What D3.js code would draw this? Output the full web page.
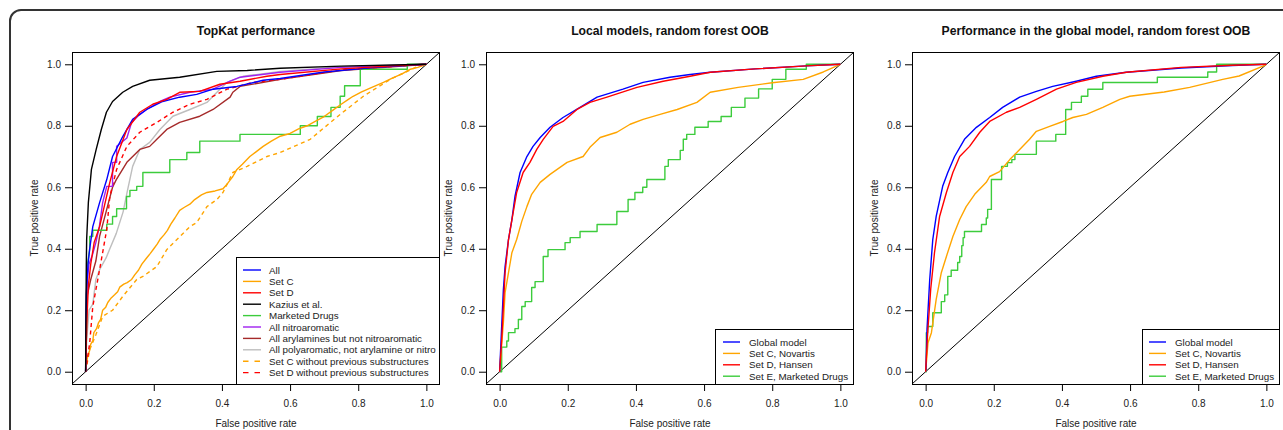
<!DOCTYPE html>
<html>
<head>
<meta charset="utf-8">
<script src="https://cdn.jsdelivr.net/npm/d3@7/dist/d3.min.js"></script>
<style>
  html, body { margin: 0; padding: 0; background: #fff; }
  svg { display: block; font-family: "Liberation Sans", Arial, Helvetica, sans-serif; }
</style>
</head>
<body>
<svg id="chart" width="1283" height="430"></svg>
<script>
// ---- tick labels ----
const tickValues = [0, 0.2, 0.4, 0.6, 0.8, 1.0];

// ---- panel 1: TopKat performance (false positive rate, true positive rate) ----
const topkatAll = [[0,0],[0.002,0.25],[0.007,0.35],[0.012,0.4],[0.021,0.472],[0.041,0.55],[0.062,0.625],[0.079,0.70],[0.109,0.765],[0.138,0.821],[0.179,0.853],[0.226,0.879],[0.276,0.893],[0.326,0.902],[0.374,0.919],[0.444,0.928],[0.521,0.948],[0.571,0.954],[0.70,0.975],[0.85,0.99],[1,1]];
const topkatSetC = [[0,0],[0.003,0.03],[0.006,0.05],[0.012,0.07],[0.015,0.09],[0.021,0.10],[0.024,0.127],[0.032,0.14],[0.038,0.16],[0.044,0.17],[0.05,0.2],[0.059,0.21],[0.065,0.225],[0.075,0.24],[0.085,0.25],[0.094,0.26],[0.1,0.275],[0.112,0.285],[0.122,0.29],[0.135,0.30],[0.144,0.315],[0.155,0.33],[0.165,0.35],[0.179,0.37],[0.19,0.385],[0.2,0.40],[0.21,0.415],[0.218,0.43],[0.23,0.445],[0.24,0.46],[0.25,0.48],[0.262,0.50],[0.276,0.525],[0.29,0.535],[0.306,0.545],[0.32,0.56],[0.34,0.575],[0.356,0.583],[0.38,0.588],[0.403,0.595],[0.415,0.61],[0.425,0.625],[0.432,0.635],[0.444,0.658],[0.46,0.675],[0.482,0.70],[0.50,0.715],[0.521,0.733],[0.545,0.75],[0.571,0.766],[0.6,0.775],[0.625,0.79],[0.65,0.80],[0.675,0.815],[0.70,0.83],[0.725,0.85],[0.75,0.87],[0.77,0.885],[0.785,0.896],[0.81,0.91],[0.84,0.925],[0.874,0.941],[0.9,0.955],[0.93,0.97],[0.953,0.984],[0.975,0.99],[1,1]];
const topkatSetD = [[0,0],[0.003,0.15],[0.008,0.28],[0.015,0.35],[0.025,0.42],[0.041,0.472],[0.071,0.616],[0.091,0.70],[0.121,0.788],[0.159,0.844],[0.197,0.870],[0.238,0.886],[0.276,0.909],[0.335,0.912],[0.394,0.935],[0.453,0.945],[0.532,0.961],[0.571,0.967],[0.75,0.985],[0.9,0.995],[1,1]];
const topkatKazius = [[0,0],[0.001,0.2],[0.002,0.35],[0.003,0.43],[0.008,0.55],[0.017,0.658],[0.031,0.723],[0.046,0.788],[0.061,0.844],[0.079,0.879],[0.109,0.909],[0.138,0.928],[0.188,0.948],[0.276,0.958],[0.385,0.977],[0.474,0.980],[0.571,0.987],[0.75,0.994],[1,1]];
const topkatMarketed = [[0,0],[0.003,0.2],[0.003,0.33],[0.012,0.4],[0.012,0.44],[0.021,0.44],[0.021,0.46],[0.062,0.46],[0.062,0.48],[0.079,0.48],[0.079,0.505],[0.091,0.505],[0.091,0.53],[0.12,0.53],[0.12,0.57],[0.13,0.57],[0.13,0.59],[0.15,0.59],[0.15,0.603],[0.168,0.603],[0.168,0.648],[0.247,0.648],[0.247,0.69],[0.297,0.69],[0.297,0.713],[0.335,0.713],[0.335,0.75],[0.453,0.75],[0.453,0.772],[0.63,0.772],[0.63,0.80],[0.68,0.80],[0.68,0.83],[0.72,0.83],[0.72,0.86],[0.747,0.86],[0.747,0.896],[0.76,0.896],[0.76,0.93],[0.806,0.93],[0.806,0.984],[0.944,0.984],[0.944,1.0],[1,1]];
const topkatNitro = [[0,0],[0.002,0.2],[0.005,0.3],[0.01,0.35],[0.02,0.38],[0.03,0.42],[0.04,0.47],[0.05,0.55],[0.062,0.603],[0.079,0.603],[0.079,0.681],[0.091,0.681],[0.091,0.733],[0.121,0.76],[0.135,0.811],[0.153,0.831],[0.179,0.853],[0.218,0.879],[0.247,0.893],[0.306,0.909],[0.374,0.919],[0.424,0.945],[0.453,0.958],[0.571,0.974],[0.75,0.99],[1,1]];
const topkatArylamines = [[0,0],[0.005,0.25],[0.015,0.3],[0.03,0.36],[0.041,0.44],[0.06,0.52],[0.079,0.6],[0.09,0.625],[0.121,0.681],[0.159,0.723],[0.188,0.733],[0.209,0.756],[0.238,0.788],[0.276,0.811],[0.335,0.831],[0.374,0.853],[0.424,0.893],[0.432,0.909],[0.453,0.928],[0.571,0.951],[0.75,0.98],[1,1]];
const topkatPolyaromatic = [[0,0],[0.003,0.1],[0.01,0.2],[0.021,0.22],[0.03,0.3],[0.041,0.332],[0.06,0.37],[0.071,0.40],[0.09,0.45],[0.11,0.52],[0.121,0.58],[0.138,0.668],[0.159,0.723],[0.188,0.746],[0.218,0.788],[0.256,0.831],[0.306,0.853],[0.356,0.876],[0.394,0.919],[0.415,0.941],[0.462,0.961],[0.571,0.977],[0.75,0.992],[1,1]];
const topkatSetCRest = [[0,0],[0.012,0.072],[0.03,0.12],[0.05,0.18],[0.079,0.2],[0.109,0.245],[0.15,0.30],[0.168,0.31],[0.209,0.342],[0.238,0.397],[0.268,0.43],[0.306,0.472],[0.326,0.485],[0.356,0.537],[0.385,0.56],[0.403,0.583],[0.432,0.648],[0.474,0.668],[0.532,0.70],[0.571,0.713],[0.659,0.756],[0.747,0.837],[0.815,0.896],[0.894,0.951],[0.974,0.993],[1,1]];
const topkatSetDRest = [[0,0],[0.002,0.016],[0.012,0.094],[0.021,0.212],[0.041,0.332],[0.062,0.463],[0.071,0.57],[0.091,0.658],[0.121,0.733],[0.159,0.779],[0.209,0.811],[0.256,0.844],[0.306,0.870],[0.356,0.886],[0.415,0.919],[0.491,0.941],[0.571,0.951],[0.75,0.982],[1,1]];

// ---- panel 2: local models, random forest OOB ----
const localGlobal = [[0,0],[0.006,0.147],[0.011,0.267],[0.016,0.342],[0.026,0.43],[0.036,0.495],[0.045,0.57],[0.06,0.648],[0.08,0.70],[0.098,0.733],[0.119,0.762],[0.148,0.795],[0.186,0.827],[0.236,0.86],[0.286,0.893],[0.362,0.919],[0.421,0.941],[0.5,0.958],[0.559,0.967],[0.618,0.974],[0.75,0.985],[0.9,0.995],[1,1]];
const localSetC = [[0,0],[0.011,0.16],[0.016,0.257],[0.026,0.322],[0.036,0.387],[0.05,0.43],[0.065,0.489],[0.08,0.537],[0.094,0.577],[0.119,0.616],[0.148,0.642],[0.198,0.681],[0.245,0.70],[0.265,0.73],[0.295,0.762],[0.344,0.779],[0.383,0.805],[0.421,0.821],[0.471,0.837],[0.521,0.853],[0.579,0.876],[0.618,0.909],[0.70,0.925],[0.80,0.94],[0.891,0.951],[0.95,0.975],[1,1]];
const localSetD = [[0,0],[0.006,0.104],[0.016,0.322],[0.026,0.43],[0.05,0.583],[0.069,0.648],[0.089,0.681],[0.109,0.723],[0.128,0.756],[0.157,0.798],[0.186,0.814],[0.227,0.853],[0.265,0.876],[0.315,0.893],[0.403,0.925],[0.48,0.945],[0.559,0.961],[0.618,0.974],[0.75,0.985],[0.9,0.995],[1,1]];
const localSetE = [[0,0],[0.006,0.0],[0.006,0.08],[0.021,0.08],[0.021,0.10],[0.026,0.10],[0.026,0.127],[0.045,0.127],[0.045,0.14],[0.055,0.14],[0.055,0.17],[0.065,0.17],[0.065,0.212],[0.075,0.212],[0.075,0.228],[0.094,0.228],[0.094,0.274],[0.104,0.274],[0.104,0.293],[0.128,0.293],[0.128,0.375],[0.142,0.375],[0.142,0.397],[0.192,0.397],[0.192,0.42],[0.207,0.42],[0.207,0.436],[0.236,0.436],[0.236,0.456],[0.286,0.456],[0.286,0.479],[0.344,0.479],[0.344,0.521],[0.377,0.521],[0.377,0.56],[0.397,0.56],[0.397,0.583],[0.42,0.583],[0.42,0.60],[0.432,0.60],[0.432,0.625],[0.485,0.625],[0.485,0.668],[0.495,0.668],[0.495,0.69],[0.53,0.69],[0.53,0.72],[0.539,0.72],[0.539,0.756],[0.549,0.756],[0.549,0.772],[0.573,0.772],[0.573,0.795],[0.612,0.795],[0.612,0.814],[0.65,0.814],[0.65,0.83],[0.68,0.83],[0.68,0.86],[0.72,0.86],[0.72,0.89],[0.76,0.89],[0.76,0.92],[0.80,0.92],[0.80,0.951],[0.84,0.951],[0.84,0.984],[0.90,0.984],[0.90,1.0],[1,1]];

// ---- panel 3: performance in the global model, random forest OOB ----
const globalGlobal = [[0,0],[0.001,0.007],[0.004,0.137],[0.012,0.30],[0.021,0.43],[0.031,0.505],[0.05,0.603],[0.065,0.648],[0.085,0.70],[0.114,0.756],[0.149,0.795],[0.188,0.827],[0.226,0.86],[0.276,0.893],[0.325,0.912],[0.373,0.928],[0.442,0.945],[0.501,0.961],[0.589,0.974],[0.75,0.988],[0.9,0.996],[1,1]];
const globalSetC = [[0,0],[0.007,0.094],[0.017,0.127],[0.031,0.235],[0.046,0.322],[0.061,0.375],[0.08,0.44],[0.1,0.495],[0.119,0.537],[0.144,0.577],[0.178,0.616],[0.188,0.635],[0.217,0.651],[0.247,0.69],[0.276,0.723],[0.305,0.756],[0.325,0.782],[0.364,0.798],[0.403,0.814],[0.432,0.827],[0.472,0.837],[0.52,0.86],[0.57,0.886],[0.599,0.896],[0.70,0.91],[0.775,0.925],[0.872,0.951],[0.92,0.962],[0.99,0.994],[1,1]];
const globalSetD = [[0,0],[0.006,0.127],[0.015,0.27],[0.026,0.387],[0.041,0.505],[0.061,0.583],[0.08,0.648],[0.1,0.70],[0.129,0.733],[0.159,0.779],[0.188,0.814],[0.237,0.844],[0.276,0.86],[0.325,0.886],[0.384,0.919],[0.442,0.941],[0.52,0.961],[0.589,0.974],[0.75,0.99],[0.9,0.997],[1,1]];
const globalSetE = [[0,0],[0.002,0.0],[0.002,0.127],[0.006,0.127],[0.006,0.147],[0.021,0.147],[0.021,0.192],[0.046,0.192],[0.046,0.228],[0.056,0.228],[0.056,0.25],[0.065,0.25],[0.065,0.31],[0.075,0.31],[0.075,0.33],[0.094,0.33],[0.094,0.355],[0.1,0.355],[0.1,0.375],[0.106,0.375],[0.106,0.41],[0.11,0.41],[0.11,0.436],[0.114,0.436],[0.114,0.456],[0.164,0.456],[0.164,0.479],[0.178,0.479],[0.178,0.50],[0.182,0.50],[0.182,0.528],[0.193,0.528],[0.193,0.625],[0.223,0.625],[0.223,0.668],[0.24,0.668],[0.24,0.68],[0.253,0.68],[0.253,0.69],[0.262,0.69],[0.262,0.707],[0.325,0.707],[0.325,0.75],[0.382,0.75],[0.382,0.772],[0.411,0.772],[0.411,0.853],[0.428,0.853],[0.428,0.876],[0.457,0.876],[0.457,0.896],[0.476,0.896],[0.476,0.919],[0.52,0.919],[0.52,0.941],[0.68,0.941],[0.68,0.958],[0.828,0.958],[0.828,0.975],[0.854,0.975],[0.854,1.0],[1,1]];

// ---- series styling and legend labels ----
const panels = [
  {
    title: "TopKat performance",
    left: 72, right: 440,
    legendLeft: 236, legendTop: 257, legendLine: [7, 25], legendText: 33,
    series: [
      { label: "All", data: topkatAll, color: "#0000ff" },
      { label: "Set C", data: topkatSetC, color: "#ffa500" },
      { label: "Set D", data: topkatSetD, color: "#ff0000" },
      { label: "Kazius et al.", data: topkatKazius, color: "#000000" },
      { label: "Marketed Drugs", data: topkatMarketed, color: "#3ccc3c" },
      { label: "All nitroaromatic", data: topkatNitro, color: "#a020f0" },
      { label: "All arylamines but not nitroaromatic", data: topkatArylamines, color: "#a52a2a" },
      { label: "All polyaromatic, not arylamine or nitro", data: topkatPolyaromatic, color: "#bebebe" },
      { label: "Set C without previous substructures", data: topkatSetCRest, color: "#ffa500", dash: true },
      { label: "Set D without previous substructures", data: topkatSetDRest, color: "#ff0000", dash: true }
    ],
    drawOrder: [7, 6, 8, 4, 1, 9, 5, 0, 2, 3]
  },
  {
    title: "Local models, random forest OOB",
    left: 486, right: 854,
    legendLeft: 715, legendTop: 329, legendLine: [8, 25], legendText: 34,
    series: [
      { label: "Global model", data: localGlobal, color: "#0000ff" },
      { label: "Set C, Novartis", data: localSetC, color: "#ffa500" },
      { label: "Set D, Hansen", data: localSetD, color: "#ff0000" },
      { label: "Set E, Marketed Drugs", data: localSetE, color: "#3ccc3c" }
    ],
    drawOrder: [3, 1, 0, 2]
  },
  {
    title: "Performance in the global model, random forest OOB",
    left: 912, right: 1280,
    legendLeft: 1142, legendTop: 329, legendLine: [7, 24], legendText: 33,
    series: [
      { label: "Global model", data: globalGlobal, color: "#0000ff" },
      { label: "Set C, Novartis", data: globalSetC, color: "#ffa500" },
      { label: "Set D, Hansen", data: globalSetD, color: "#ff0000" },
      { label: "Set E, Marketed Drugs", data: globalSetE, color: "#3ccc3c" }
    ],
    drawOrder: [3, 1, 0, 2]
  }
];

const svg = d3.select("#chart");
const plotTop = 52, plotBottom = 384;
const fmt = d3.format(".1f");

// rounded outer frame
svg.append("rect")
  .attr("x", 10).attr("y", 10)
  .attr("width", 1300).attr("height", 440)
  .attr("rx", 11).attr("ry", 11)
  .attr("fill", "none").attr("stroke", "#333").attr("stroke-width", 2);

panels.forEach((p, i) => {
  const x = d3.scaleLinear().domain([-0.04, 1.04]).range([p.left, p.right]);
  const y = d3.scaleLinear().domain([-0.04, 1.04]).range([plotBottom, plotTop]);
  const g = svg.append("g");

  const clipId = "clip" + i;
  svg.append("clipPath").attr("id", clipId)
    .append("rect")
    .attr("x", p.left).attr("y", plotTop)
    .attr("width", p.right - p.left).attr("height", plotBottom - plotTop);

  // axes
  const xAxis = g.append("g").attr("transform", `translate(0,${plotBottom})`)
    .call(d3.axisBottom(x).tickValues(tickValues).tickFormat(fmt).tickSize(7).tickPadding(9));
  const yAxis = g.append("g").attr("transform", `translate(${p.left},0)`)
    .call(d3.axisLeft(y).tickValues(tickValues).tickFormat(fmt).tickSize(7).tickPadding(4));
  [xAxis, yAxis].forEach(a => {
    a.select(".domain").remove();
    a.selectAll("line").attr("stroke", "#000").attr("stroke-width", 1);
    a.selectAll("text").attr("fill", "#222").style("font-size", "10px")
      .style("font-family", "'Liberation Sans', Arial, sans-serif");
  });

  // curves
  const line = d3.line().x(d => x(d[0])).y(d => y(d[1]));
  const curves = g.append("g").attr("clip-path", `url(#${clipId})`);
  // reference diagonal
  curves.append("path")
    .attr("d", line([[-0.04, -0.04], [1.04, 1.04]]))
    .attr("fill", "none").attr("stroke", "#000").attr("stroke-width", 1);
  p.drawOrder.forEach(k => {
    const s = p.series[k];
    curves.append("path")
      .attr("d", line(s.data))
      .attr("fill", "none")
      .attr("stroke", s.color)
      .attr("stroke-width", 1.4)
      .attr("stroke-linejoin", "round")
      .attr("stroke-dasharray", s.dash ? "4,3.5" : null);
  });

  // plot box
  g.append("rect")
    .attr("x", p.left + 0.5).attr("y", plotTop + 0.5)
    .attr("width", p.right - p.left - 1).attr("height", plotBottom - plotTop)
    .attr("fill", "none").attr("stroke", "#000").attr("stroke-width", 1);

  // title
  g.append("text")
    .attr("x", (p.left + p.right) / 2).attr("y", 35)
    .attr("text-anchor", "middle")
    .style("font-size", "12.2px").style("font-weight", "bold").attr("fill", "#111")
    .text(p.title);

  // axis titles
  g.append("text")
    .attr("x", (p.left + p.right) / 2).attr("y", 427)
    .attr("text-anchor", "middle")
    .style("font-size", "10px").attr("fill", "#222")
    .text("False positive rate");
  g.append("text")
    .attr("transform", `translate(${p.left - 34},${(plotTop + plotBottom) / 2}) rotate(-90)`)
    .attr("text-anchor", "middle")
    .style("font-size", "10px").attr("fill", "#222")
    .text("True positive rate");

  // legend
  const rowH = 11.4;
  const lg = g.append("g");
  lg.append("rect")
    .attr("x", p.legendLeft + 0.5).attr("y", p.legendTop + 0.5)
    .attr("width", p.right - p.legendLeft - 1).attr("height", plotBottom - p.legendTop)
    .attr("fill", "#fff").attr("stroke", "#000").attr("stroke-width", 1);
  p.series.forEach((s, k) => {
    const cy = p.legendTop + 13 + k * rowH;
    lg.append("line")
      .attr("x1", p.legendLeft + p.legendLine[0]).attr("x2", p.legendLeft + p.legendLine[1])
      .attr("y1", cy).attr("y2", cy)
      .attr("stroke", s.color).attr("stroke-width", 1.4)
      .attr("stroke-dasharray", s.dash ? "5.5,6" : null);
    lg.append("text")
      .attr("x", p.legendLeft + p.legendText).attr("y", cy + 3.5)
      .style("font-size", "9.8px").attr("fill", "#222")
      .text(s.label);
  });
});
</script>
</body>
</html>
